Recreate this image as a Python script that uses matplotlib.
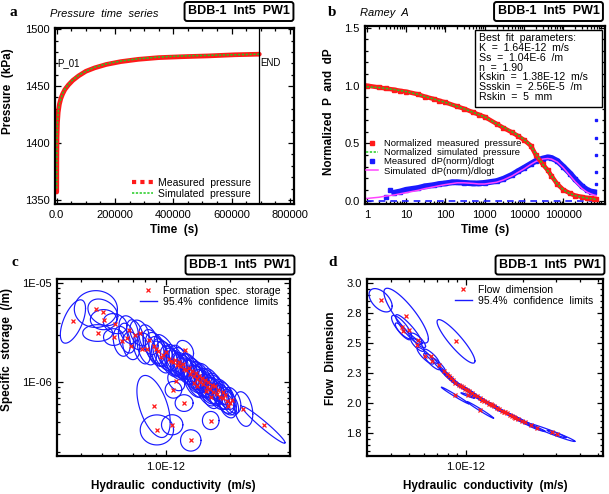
import numpy as np
import matplotlib
matplotlib.use("Agg")
import matplotlib.pyplot as plt
from matplotlib.lines import Line2D
from matplotlib.patches import Rectangle
from matplotlib.ticker import FixedLocator, MultipleLocator, LogLocator, NullFormatter

plt.rcParams['font.family'] = ['Liberation Sans', 'DejaVu Sans']

RED = '#ff1a1a'
GREEN = '#22cc22'
BLUE = '#1a1aff'
MAGENTA = '#ff44ff'

# ---- panel a: pressure time series ----
t_a = [0, 300, 1000, 2500, 5000, 9000, 14000, 20000, 28000, 40000, 55000, 75000, 100000,
       130000, 170000, 220000, 280000, 350000, 430000, 520000, 610000, 695000]
p_meas = [1357, 1385, 1405, 1418, 1427, 1434, 1439, 1443, 1447, 1451, 1455, 1459, 1463,
          1466, 1469, 1471.5, 1473.5, 1475, 1475.8, 1476.5, 1477.5, 1478]
p_sim = [1360, 1387, 1406, 1418, 1427, 1434, 1439, 1443.5, 1447.5, 1451.5, 1455.5, 1459.5, 1463,
         1466.5, 1469.5, 1472, 1474, 1475.5, 1476.5, 1477, 1477.5, 1478]
t_end = 695000

# ---- panel b: Ramey A ----
t_b = [1, 2, 3, 5, 7, 10, 20, 30, 50, 70, 100, 200, 300, 500, 700, 1000, 2000, 3000, 5000, 7000,
       10000, 15000, 20000, 30000, 40000, 50000, 70000, 100000, 150000, 200000, 300000, 400000,
       500000, 600000, 690000]
pn_meas = [1.00, 0.985, 0.975, 0.965, 0.955, 0.948, 0.925, 0.905, 0.885, 0.87, 0.855, 0.82, 0.80,
           0.77, 0.75, 0.73, 0.67, 0.635, 0.595, 0.565, 0.53, 0.48, 0.40, 0.32, 0.27, 0.22, 0.15,
           0.10, 0.068, 0.05, 0.038, 0.03, 0.027, 0.024, 0.02]
pn_sim = [0.99, 0.983, 0.976, 0.966, 0.957, 0.948, 0.925, 0.905, 0.885, 0.87, 0.855, 0.82, 0.80,
          0.77, 0.75, 0.73, 0.67, 0.64, 0.60, 0.57, 0.535, 0.48, 0.41, 0.32, 0.265, 0.22, 0.15,
          0.10, 0.065, 0.05, 0.035, 0.028, 0.024, 0.02, 0.018]
dp_sim = [0.025, 0.035, 0.045, 0.055, 0.065, 0.075, 0.095, 0.11, 0.125, 0.135, 0.145, 0.16, 0.16,
          0.155, 0.15, 0.15, 0.165, 0.185, 0.22, 0.25, 0.28, 0.32, 0.345, 0.365, 0.37, 0.365, 0.34,
          0.29, 0.22, 0.17, 0.11, 0.08, 0.065, 0.055, 0.05]
t_dp_early = [3, 4]
dp_early = [0.04, 0.10]
t_dp = [5, 7, 10, 20, 30, 50, 70, 100, 150, 200, 300, 500, 700, 1000, 2000, 3000, 5000, 7000,
        10000, 15000, 20000, 30000, 40000, 50000, 70000, 100000, 150000, 200000, 300000, 400000,
        500000, 600000]
dp_meas = [0.075, 0.085, 0.10, 0.115, 0.13, 0.14, 0.15, 0.155, 0.165, 0.165, 0.16, 0.155, 0.155,
           0.16, 0.175, 0.195, 0.23, 0.26, 0.29, 0.325, 0.35, 0.37, 0.38, 0.375, 0.35, 0.30, 0.24,
           0.19, 0.13, 0.10, 0.085, 0.08]
t_spike = 690000
dp_spike = [0.15, 0.25, 0.4, 0.55, 0.7, 0.85, 0.95, 1.05, 1.15, 1.22, 1.3]
params = ["Best  fit  parameters:", "K  =  1.64E-12  m/s", "Ss  =  1.04E-6  /m", "n  =  1.90",
          "Kskin  =  1.38E-12  m/s", "Ssskin  =  2.56E-5  /m", "Rskin  =  5  mm"]

# ---- panel c: K vs Ss (K in 1e-12 m/s, Ss in 1e-6 /m, half-widths in decades) ----
K_c = [0.367, 0.470, 0.507, 0.511, 0.479, 0.579, 0.569, 0.622, 0.669, 0.657, 0.718, 0.753, 0.689, 0.772, 0.815, 0.830,
       0.876, 0.924, 0.975, 1.03, 1.086, 1.126, 1.167, 1.23, 1.25, 1.30, 1.35, 1.40, 1.45, 1.50, 1.555, 1.61, 1.67,
       1.73, 1.80, 1.86, 1.93, 2.00,
       1.10, 1.20, 1.28, 1.38, 1.48, 1.58, 1.70, 1.12, 1.40, 1.62, 1.85, 1.95,
       0.90, 0.95, 1.00, 1.06, 1.15, 1.22, 1.33, 1.43, 1.52, 1.65, 1.76, 1.90, 2.05, 1.35, 1.55,
       0.876, 0.908, 1.071, 1.309, 1.218, 1.086, 1.624, 2.31, 2.87]
Ss_c = [4.10, 5.47, 5.07, 4.28, 3.14, 3.90, 2.86, 2.59, 3.39, 2.79, 3.02, 3.14, 2.34, 2.17, 2.17, 2.69,
        2.30, 2.05, 1.90, 1.72, 1.60, 1.50, 1.45, 2.10, 1.33, 1.22, 1.15, 1.08, 1.02, 0.96, 0.90, 0.86, 0.81,
        0.77, 0.72, 0.69, 0.65, 0.62,
        1.70, 1.55, 1.40, 1.25, 1.12, 1.00, 0.92, 1.04, 0.92, 0.72, 0.80, 0.58,
        2.15, 1.80, 2.00, 1.65, 1.60, 1.38, 1.30, 1.15, 1.05, 0.95, 0.84, 0.74, 0.66, 0.98, 0.82,
        0.573, 0.333, 0.375, 0.261, 0.620, 0.843, 0.414, 0.540, 0.375]
dK_c = [0.059, 0.101, 0.070, 0.062, 0.070, 0.055, 0.047, 0.040, 0.045, 0.040, 0.040, 0.045, 0.040, 0.040, 0.045, 0.045,
        0.050, 0.045, 0.050, 0.055, 0.045, 0.050, 0.040, 0.040, 0.045, 0.050, 0.055, 0.045, 0.050, 0.045, 0.050, 0.055,
        0.045, 0.050, 0.045, 0.050, 0.045, 0.040,
        0.045, 0.050, 0.040, 0.045, 0.050, 0.045, 0.040, 0.040, 0.045, 0.040, 0.045, 0.040,
        0.050, 0.045, 0.055, 0.050, 0.045, 0.050, 0.055, 0.045, 0.050, 0.045, 0.050, 0.045, 0.040, 0.045, 0.050,
        0.078, 0.078, 0.050, 0.048, 0.042, 0.039, 0.039, 0.044, 0.101]
dSs_c = [0.218, 0.185, 0.134, 0.101, 0.084, 0.101, 0.084, 0.150, 0.140, 0.150, 0.150, 0.130, 0.140, 0.150, 0.160, 0.150,
         0.17, 0.15, 0.16, 0.18, 0.14, 0.15, 0.13, 0.10, 0.15, 0.16, 0.17, 0.14, 0.16, 0.15, 0.17, 0.15,
         0.14, 0.16, 0.13, 0.15, 0.14, 0.12,
         0.15, 0.16, 0.14, 0.15, 0.16, 0.14, 0.13, 0.10, 0.12, 0.12, 0.13, 0.12,
         0.17, 0.16, 0.18, 0.15, 0.17, 0.16, 0.18, 0.15, 0.17, 0.16, 0.15, 0.14, 0.13, 0.14, 0.15,
         0.312, 0.151, 0.101, 0.107, 0.084, 0.084, 0.091, 0.174, 0.185]
rho_c = [0.6, 0.0, -0.3, 0.0, 0.0, -0.2, 0.0, -0.2, -0.3, -0.3, -0.4, -0.3, -0.2, -0.4, -0.4, -0.4,
         -0.5, -0.4, -0.5, -0.6, -0.5, -0.4, -0.5, -0.3, -0.5, -0.6, -0.5, -0.4, -0.5, -0.6, -0.5, -0.5,
         -0.4, -0.5, -0.6, -0.5, -0.4, -0.5,
         -0.5, -0.5, -0.4, -0.5, -0.6, -0.5, -0.4, -0.3, -0.5, -0.4, -0.5, -0.4,
         -0.4, -0.5, -0.6, -0.5, -0.4, -0.5, -0.6, -0.5, -0.4, -0.5, -0.6, -0.5, -0.4, -0.5, -0.5,
         -0.5, 0.0, 0.0, 0.0, 0.0, 0.0, 0.0, -0.3, -0.97]

# ---- panel d: K vs flow dimension (K in 1e-12 m/s) ----
K_d = [0.354, 0.483, 0.886, 0.457, 0.499, 0.464, 0.559, 0.554, 0.611, 0.657, 0.662, 0.718, 0.763, 0.811, 0.851,
       0.915, 0.960, 1.012, 1.075, 1.143, 1.214, 1.290, 1.370, 1.456, 1.546, 1.643, 1.746, 1.893, 2.050, 2.360,
       3.010, 0.875, 1.190, 1.020, 2.835,
       0.94, 1.04, 1.10, 1.18, 1.25, 1.33, 1.41, 1.50, 1.60, 1.70, 1.82,
       0.79, 0.83, 0.88, 0.99, 1.22, 1.36, 1.58, 1.80, 1.98, 2.20]
n_d = [2.856, 2.728, 2.514, 2.633, 2.611, 2.597, 2.522, 2.486, 2.394, 2.389, 2.347, 2.319, 2.264, 2.222, 2.189,
       2.153, 2.133, 2.111, 2.083, 2.056, 2.028, 2.006, 1.986, 1.958, 1.933, 1.917, 1.897, 1.867, 1.839, 1.792,
       1.744, 2.064, 1.944, 2.064, 1.756,
       2.14, 2.10, 2.07, 2.04, 2.02, 1.995, 1.975, 1.948, 1.925, 1.905, 1.88,
       2.24, 2.205, 2.17, 2.12, 2.025, 1.99, 1.928, 1.885, 1.85, 1.815]
dK_d = [0.061, 0.1175, 0.100, 0.053, 0.070, 0.040, 0.039, 0.035, 0.044, 0.040, 0.044, 0.035, 0.030, 0.030, 0.030,
        0.035, 0.035, 0.040, 0.035, 0.040, 0.035, 0.040, 0.035, 0.035, 0.035, 0.030, 0.035, 0.040, 0.045, 0.045,
        0.050, 0.072, 0.070, 0.035, 0.123,
        0.030, 0.030, 0.030, 0.030, 0.030, 0.030, 0.030, 0.030, 0.030, 0.030, 0.030,
        0.035, 0.035, 0.035, 0.035, 0.035, 0.035, 0.035, 0.040, 0.040, 0.040]
dn_d = [0.097, 0.228, 0.181, 0.097, 0.125, 0.070, 0.061, 0.055, 0.069, 0.060, 0.069, 0.055, 0.045, 0.040, 0.038,
        0.036, 0.034, 0.036, 0.032, 0.034, 0.030, 0.032, 0.027, 0.026, 0.025, 0.021, 0.024, 0.026, 0.028, 0.028,
        0.032, 0.069, 0.069, 0.022, 0.075,
        0.029, 0.028, 0.027, 0.026, 0.025, 0.024, 0.023, 0.022, 0.021, 0.020, 0.020,
        0.045, 0.042, 0.040, 0.035, 0.030, 0.027, 0.024, 0.024, 0.023, 0.022]
rho_d = [-0.5, -0.85, -0.9, -0.8, -0.9, -0.85, -0.8, -0.8, -0.85, -0.85, -0.85, -0.9, -0.95, -0.95, -0.95,
         -0.95, -0.95, -0.95, -0.95, -0.95, -0.95, -0.95, -0.95, -0.95, -0.95, -0.95, -0.95, -0.95, -0.95, -0.95,
         -0.96, -0.99, -0.99, -0.95, -0.98,
         -0.95, -0.95, -0.95, -0.95, -0.95, -0.95, -0.95, -0.95, -0.95, -0.95, -0.95,
         -0.94, -0.94, -0.94, -0.95, -0.95, -0.95, -0.95, -0.95, -0.95, -0.95]

theta = np.linspace(0, 2 * np.pi, 120)


def ellipse(cx, cy, dx, dy, rho):
    # outline with bounding half-widths dx, dy and correlation rho
    x = cx + dx * np.cos(theta)
    y = cy + dy * (rho * np.cos(theta) + np.sqrt(1 - rho ** 2) * np.sin(theta))
    return x, y


def style(ax):
    for s in ax.spines.values():
        s.set_linewidth(1.6)
    ax.tick_params(which='both', direction='in', top=True, right=True, labelsize=8, width=0.9, pad=4)
    ax.tick_params(which='major', length=4)
    ax.tick_params(which='minor', length=2)


def title_box(x, y):
    fig.text(x, y, 'BDB-1  Int5  PW1', fontsize=9, fontweight='bold', ha='center', va='center',
             bbox=dict(boxstyle='round,pad=0.28,rounding_size=0.2', fc='white', ec='black', lw=1.4))


fig = plt.figure(figsize=(6.09, 4.94), dpi=100)
W, H = 609, 494


def axes_px(left, top, right, bottom):
    return fig.add_axes([left / W, 1 - bottom / H, (right - left) / W, (bottom - top) / H])


lab_font = dict(fontsize=8.5, fontweight='bold')

# ---------- a ----------
ax = axes_px(55, 28, 294, 204)
ax.plot(t_a, p_meas, color=RED, lw=3.4, solid_capstyle='round')
ax.plot(t_a, p_sim, color=GREEN, lw=1.1, ls=(0, (1.5, 1)))
ax.axvline(t_end, color='black', lw=0.9)
ax.text(3000, 1470, 'P_01', fontsize=7, va='center')
ax.text(t_end + 3000, 1470, 'END', fontsize=7, va='center')
ax.set_xlim(-6000, 814000)
ax.set_ylim(1346.5, 1501)
ax.xaxis.set_major_locator(FixedLocator([0, 200000, 400000, 600000, 800000]))
ax.set_xticklabels(['0.0', '200000', '400000', '600000', '800000'])
ax.xaxis.set_minor_locator(MultipleLocator(50000))
ax.yaxis.set_major_locator(MultipleLocator(50))
ax.yaxis.set_minor_locator(MultipleLocator(10))
style(ax)
ax.set_xlabel('Time  (s)', **lab_font)
ax.set_ylabel('Pressure  (kPa)', **lab_font)
ax.xaxis.set_label_coords(0.5, -0.114)
ax.yaxis.set_label_coords(-0.172, 0.64)
handles = [Line2D([], [], color=RED, lw=3, ls=(0, (1, 1))),
           Line2D([], [], color=GREEN, lw=1.1, ls=(0, (1.5, 1)))]
ax.legend(handles, ['Measured  pressure', 'Simulated  pressure'], loc='upper left',
          bbox_to_anchor=(132 / W, 1 - 178 / H), bbox_transform=fig.transFigure, frameon=False,
          fontsize=7.5, handlelength=2.0, handletextpad=0.5, labelspacing=0.05, borderpad=0, borderaxespad=0)
fig.text(10 / W, 1 - 13 / H, 'a', fontsize=11, fontweight='bold', family='Liberation Serif', va='center')
fig.text(50 / W, 1 - 14 / H, 'Pressure  time  series', fontsize=8, style='italic', va='center')
title_box(239 / W, 1 - 11.5 / H)

# ---------- b ----------
ax = axes_px(365, 26, 605, 204)
ax.plot([1, 690000], [0, 0], color=BLUE, lw=1.2, ls=(0, (4, 3)))
ax.plot(t_dp, dp_meas, color=BLUE, lw=4.2, marker='s', ms=3)
ax.plot(t_dp_early, dp_early, ls='none', color=BLUE, marker='s', ms=3)
ax.plot(np.full(len(dp_spike), t_spike), dp_spike, ls='none', color=BLUE, marker='s', ms=2)
ax.plot(t_b, dp_sim, color=MAGENTA, lw=1.1)
ax.plot(t_b, pn_meas, color=RED, lw=3.2, marker='s', ms=2.5)
ax.plot(t_b, pn_sim, color=GREEN, lw=1.1, ls=(0, (1.5, 1)))
ax.set_xscale('log')
ax.set_xlim(0.9, 1.15e6)
ax.set_ylim(-0.023, 1.515)
ax.xaxis.set_major_locator(FixedLocator([1, 10, 100, 1000, 10000, 100000]))
ax.set_xticklabels(['1', '10', '100', '1000', '10000', '100000'])
ax.xaxis.set_minor_locator(LogLocator(base=10, subs=np.arange(2, 10), numticks=20))
ax.xaxis.set_minor_formatter(NullFormatter())
ax.yaxis.set_major_locator(FixedLocator([0, 0.5, 1.0, 1.5]))
ax.set_yticklabels(['0.0', '0.5', '1.0', '1.5'])
ax.yaxis.set_minor_locator(MultipleLocator(0.1))
style(ax)
ax.set_xlabel('Time  (s)', **lab_font)
ax.set_ylabel('Normalized  P  and  dP', **lab_font)
ax.xaxis.set_label_coords(0.5, -0.112)
ax.yaxis.set_label_coords(-0.125, 0.52)
handles = [Line2D([], [], color=RED, ls='none', marker='s', ms=2.5),
           Line2D([], [], color=GREEN, lw=1.1, ls=(0, (1.5, 1))),
           Line2D([], [], color=BLUE, ls='none', marker='s', ms=3),
           Line2D([], [], color=MAGENTA, lw=1.1)]
ax.legend(handles, ['Normalized  measured  pressure', 'Normalized  simulated  pressure',
                    'Measured  dP(norm)/dlogt', 'Simulated  dP(norm)/dlogt'],
          loc='upper left', bbox_to_anchor=(366 / W, 1 - 139 / H), bbox_transform=fig.transFigure,
          frameon=False, fontsize=6.8, handlelength=1.3, handletextpad=0.6, labelspacing=0.02,
          borderpad=0, borderaxespad=0)
fig.add_artist(Rectangle((475 / W, 1 - 107 / H), 127 / W, 77 / H, transform=fig.transFigure,
                         fc='white', ec='black', lw=1.0, zorder=2))
fig.text(479 / W, 1 - 33 / H, '\n'.join(params), fontsize=7.6, va='top', ha='left', linespacing=0.98,
         zorder=3)
fig.text(328 / W, 1 - 12 / H, 'b', fontsize=11, fontweight='bold', family='Liberation Serif', va='center')
fig.text(360 / W, 1 - 13 / H, 'Ramey  A', fontsize=8, style='italic', va='center')
title_box(548.5 / W, 1 - 11.5 / H)

# ---------- c ----------
ax = axes_px(57, 279, 290, 456)
for k, s, dk, ds, r in zip(K_c, Ss_c, dK_c, dSs_c, rho_c):
    ex, ey = ellipse(np.log10(k * 1e-12), np.log10(s * 1e-6), dk, ds, r)
    ax.plot(10 ** ex, 10 ** ey, color=BLUE, lw=0.85)
ax.plot(np.array(K_c) * 1e-12, np.array(Ss_c) * 1e-6, ls='none', marker='x', color=RED, ms=3.5, mew=0.9)
ax.set_xscale('log')
ax.set_yscale('log')
ax.set_xlim(3.09e-13, 3.82e-12)
ax.set_ylim(1.82e-7, 1.097e-5)
ax.xaxis.set_major_locator(FixedLocator([1e-12]))
ax.set_xticklabels(['1.0E-12'])
ax.xaxis.set_minor_locator(LogLocator(base=10, subs=np.arange(2, 10), numticks=20))
ax.xaxis.set_minor_formatter(NullFormatter())
ax.yaxis.set_major_locator(FixedLocator([1e-6, 1e-5]))
ax.set_yticklabels(['1E-06', '1E-05'])
ax.yaxis.set_minor_locator(LogLocator(base=10, subs=np.arange(2, 10), numticks=20))
ax.yaxis.set_minor_formatter(NullFormatter())
style(ax)
ax.set_xlabel('Hydraulic  conductivity  (m/s)', **lab_font)
ax.set_ylabel('Specific  storage  (/m)', **lab_font)
ax.xaxis.set_label_coords(0.5, -0.138)
ax.yaxis.set_label_coords(-0.189, 0.60)
handles = [Line2D([], [], color=RED, ls='none', marker='x', ms=3.5, mew=0.9),
           Line2D([], [], color=BLUE, lw=1.0)]
ax.legend(handles, ['Formation  spec.  storage', '95.4%  confidence  limits'], loc='upper left',
          bbox_to_anchor=(140 / W, 1 - 286 / H), bbox_transform=fig.transFigure, frameon=False,
          fontsize=7.5, handlelength=1.6, handletextpad=0.6, labelspacing=0.05, borderpad=0, borderaxespad=0)
fig.text(12 / W, 1 - 262 / H, 'c', fontsize=11, fontweight='bold', family='Liberation Serif', va='center')
title_box(240 / W, 1 - 265 / H)

# ---------- d ----------
ax = axes_px(367, 279, 603, 456)
for k, n, dk, dn, r in zip(K_d, n_d, dK_d, dn_d, rho_d):
    ex, ey = ellipse(np.log10(k * 1e-12), n, dk, dn, r)
    ax.plot(10 ** ex, ey, color=BLUE, lw=0.9)
ax.plot(np.array(K_d) * 1e-12, n_d, ls='none', marker='x', color=RED, ms=3.5, mew=0.9)
ax.set_xscale('log')
ax.set_xlim(3.0e-13, 5.3e-12)
ax.set_ylim(1.56, 3.033)
ax.xaxis.set_major_locator(FixedLocator([1e-12]))
ax.set_xticklabels(['1.0E-12'])
ax.xaxis.set_minor_locator(LogLocator(base=10, subs=np.arange(2, 10), numticks=20))
ax.xaxis.set_minor_formatter(NullFormatter())
ax.yaxis.set_major_locator(FixedLocator([1.75, 2.0, 2.25, 2.5, 2.75, 3.0]))
ax.set_yticklabels(['1.8', '2.0', '2.3', '2.5', '2.8', '3.0'])
ax.yaxis.set_minor_locator(MultipleLocator(0.05))
style(ax)
ax.set_xlabel('Hydraulic  conductivity  (m/s)', **lab_font)
ax.set_ylabel('Flow  Dimension', **lab_font)
ax.xaxis.set_label_coords(0.5, -0.138)
ax.yaxis.set_label_coords(-0.125, 0.55)
handles = [Line2D([], [], color=RED, ls='none', marker='x', ms=3.5, mew=0.9),
           Line2D([], [], color=BLUE, lw=1.0)]
ax.legend(handles, ['Flow  dimension', '95.4%  confidence  limits'], loc='upper left',
          bbox_to_anchor=(455 / W, 1 - 285 / H), bbox_transform=fig.transFigure, frameon=False,
          fontsize=7.5, handlelength=1.6, handletextpad=0.6, labelspacing=0.05, borderpad=0, borderaxespad=0)
fig.text(328 / W, 1 - 262 / H, 'd', fontsize=11, fontweight='bold', family='Liberation Serif', va='center')
title_box(550 / W, 1 - 265 / H)

fig.savefig('out.png', dpi=100)
